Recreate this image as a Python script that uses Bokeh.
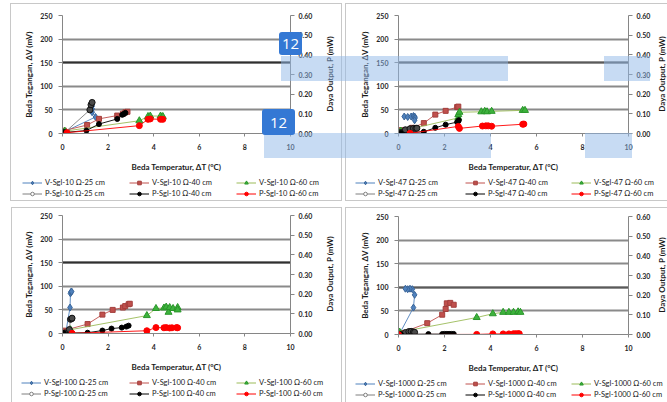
from bokeh.embed import file_html
from bokeh.layouts import column, row
from bokeh.models import (Div, FixedTicker, Grid, Legend, LegendItem, LinearAxis,
                          NumeralTickFormatter, Range1d)
from bokeh.plotting import figure
from bokeh.resources import INLINE

FONT = "Lato"

# ---- measurements: temperature difference (°C), voltage (mV), power (mW) ----
# 10 Ohm load
r10_v25_dt = [0.1, 1.45, 1.3, 1.3, 1.3]
r10_v25_mv = [4, 35, 45, 52, 58]
r10_v40_dt = [0.06, 1.08, 1.6, 2.4, 2.65, 2.76, 2.85]
r10_v40_mv = [6, 18, 31, 38, 42, 45, 46]
r10_v60_dt = [0.1, 3.37, 3.75, 3.85, 4.3, 4.4]
r10_v60_mv = [5, 27, 36, 37, 37, 36]
r10_p25_dt = [0.1, 1.2, 1.25, 1.3]
r10_p25_mw = [0.005, 0.12, 0.146, 0.158]
r10_p40_dt = [0.06, 1.05, 1.6, 2.4, 2.62, 2.7, 2.76]
r10_p40_mw = [0.005, 0.015, 0.048, 0.074, 0.095, 0.1, 0.105]
r10_p60_dt = [0.2, 3.37, 3.75, 3.85, 4.3, 4.4]
r10_p60_mw = [0.004, 0.04, 0.072, 0.074, 0.072, 0.072]

# 47 Ohm load
r47_v25_dt = [0.25, 0.4, 0.55, 0.65, 0.7, 0.72, 0.7]
r47_v25_mv = [36, 35, 36, 37, 36, 33, 28]
r47_v40_dt = [0.1, 0.6, 1.1, 1.6, 2.05, 2.55, 2.6]
r47_v40_mv = [7, 12, 22, 40, 48, 56, 57]
r47_v60_dt = [0.1, 2.6, 2.6, 2.65, 3.6, 3.75, 3.85, 4.05, 5.4, 5.5]
r47_v60_mv = [5, 33, 40, 45, 46, 47, 46, 47, 49, 49]
r47_p25_dt = [0.1, 0.3, 0.5, 0.65, 0.75, 0.8]
r47_p25_mw = [0.005, 0.019, 0.024, 0.026, 0.026, 0.027]
r47_p40_dt = [0.1, 1.1, 1.6, 2.05, 2.55, 2.6, 2.62]
r47_p40_mw = [0.002, 0.009, 0.029, 0.045, 0.058, 0.063, 0.068]
r47_p60_dt = [0.5, 2.6, 2.65, 3.65, 3.8, 3.9, 4.05, 5.4, 5.45]
r47_p60_mw = [0.001, 0.036, 0.026, 0.038, 0.039, 0.039, 0.037, 0.047, 0.048]

# 100 Ohm load
r100_v25_dt = [0.15, 0.33, 0.35, 0.37, 0.4]
r100_v25_mv = [4, 55, 85, 88, 89]
r100_v40_dt = [0.05, 1.1, 1.75, 2.2, 2.65, 2.75, 2.9, 2.95]
r100_v40_mv = [6, 20, 40, 50, 55, 58, 62, 63]
r100_v60_dt = [0.35, 3.7, 4.1, 4.45, 4.55, 4.65, 4.7, 4.85, 5.05, 5.05]
r100_v60_mv = [8, 38, 53, 54, 56, 45, 55, 53, 55, 50]
r100_p25_dt = [0.1, 0.3, 0.35, 0.4, 0.42]
r100_p25_mw = [0.003, 0.02, 0.072, 0.075, 0.078]
r100_p40_dt = [0.05, 1.1, 1.75, 2.15, 2.6, 2.8, 2.9]
r100_p40_mw = [0.002, 0.004, 0.015, 0.025, 0.03, 0.035, 0.04]
r100_p60_dt = [0.42, 3.7, 4.1, 4.45, 4.55, 4.7, 4.8, 5.0, 5.05]
r100_p60_mw = [0.001, 0.014, 0.03, 0.029, 0.03, 0.028, 0.029, 0.03, 0.029]

# 1000 Ohm load
r1000_v25_dt = [0.05, 0.65, 0.7, 0.6, 0.5, 0.4, 0.3]
r1000_v25_mv = [2, 57, 84, 96, 97, 96, 97]
r1000_v40_dt = [0.1, 1.25, 1.9, 2.05, 2.1, 2.25, 2.4]
r1000_v40_mv = [3, 24, 42, 54, 66, 67, 63]
r1000_v60_dt = [0.05, 3.4, 4.1, 4.55, 4.8, 5.0, 5.2, 5.3]
r1000_v60_mv = [5, 36, 44, 47, 47, 47, 48, 47]
r1000_p25_dt = [0.05, 0.3, 0.45, 0.55, 0.65, 0.7]
r1000_p25_mw = [0.001, 0.01, 0.015, 0.016, 0.013, 0.011]
r1000_p40_dt = [0.1, 1.3, 1.9, 2.0, 2.1, 2.2, 2.3, 2.4]
r1000_p40_mw = [0.001, 0.002, 0.002, 0.003, 0.003, 0.003, 0.003, 0.003]
r1000_p60_dt = [0.0, 3.4, 4.1, 4.55, 4.8, 5.0, 5.1, 5.2, 5.25]
r1000_p60_mw = [0.0, 0.0005, 0.003, 0.003, 0.003, 0.004, 0.004, 0.004, 0.004]

T_TICKS = [0, 2, 4, 6, 8, 10]
V_TICKS = [0, 50, 100, 150, 200, 250]
P_TICKS = [0.0, 0.1, 0.2, 0.3, 0.4, 0.5, 0.6]

X_TITLE = "Beda Temperatur, \u0394T (\u00b0C)"
Y_TITLE = "Beda Tegangan, \u0394V (mV)"
P_TITLE = "Daya Output, P (mW)"

# series key -> (legend prefix, length, axis, line colour, marker, fill, edge, size)
STYLE = {
    "v25": ("V", "25", "v", "#4F81BD", "diamond", "#4F81BD", "#3A6599", 7),
    "v40": ("V", "40", "v", "#C0504D", "square", "#C0504D", "#A33F3C", 5),
    "v60": ("V", "60", "v", "#9BBB59", "triangle", "#3DB23D", "#2A962A", 7),
    "p25": ("P", "25", "p", "#7F7F7F", "circle", "#4A4A4A", "#111111", 6),
    "p40": ("P", "40", "p", "#000000", "circle", "#000000", "#000000", 5),
    "p60": ("P", "60", "p", "#FF0000", "circle", "#FF0000", "#FF0000", 6),
}
LEGEND_COLUMNS = [("v25", "p25"), ("v40", "p40"), ("v60", "p60")]

PANELS = [
    ("10", {"v25": (r10_v25_dt, r10_v25_mv), "v40": (r10_v40_dt, r10_v40_mv),
            "v60": (r10_v60_dt, r10_v60_mv), "p25": (r10_p25_dt, r10_p25_mw),
            "p40": (r10_p40_dt, r10_p40_mw), "p60": (r10_p60_dt, r10_p60_mw)}),
    ("47", {"v25": (r47_v25_dt, r47_v25_mv), "v40": (r47_v40_dt, r47_v40_mv),
            "v60": (r47_v60_dt, r47_v60_mv), "p25": (r47_p25_dt, r47_p25_mw),
            "p40": (r47_p40_dt, r47_p40_mw), "p60": (r47_p60_dt, r47_p60_mw)}),
    ("100", {"v25": (r100_v25_dt, r100_v25_mv), "v40": (r100_v40_dt, r100_v40_mv),
             "v60": (r100_v60_dt, r100_v60_mv), "p25": (r100_p25_dt, r100_p25_mw),
             "p40": (r100_p40_dt, r100_p40_mw), "p60": (r100_p60_dt, r100_p60_mw)}),
    ("1000", {"v25": (r1000_v25_dt, r1000_v25_mv), "v40": (r1000_v40_dt, r1000_v40_mv),
              "v60": (r1000_v60_dt, r1000_v60_mv), "p25": (r1000_p25_dt, r1000_p25_mw),
              "p40": (r1000_p40_dt, r1000_p40_mw), "p60": (r1000_p60_dt, r1000_p60_mw)}),
]

# chart canvas (w x h), plot frame, legend strip height, legend column starts,
# and one darker gridline per chart
GEOM = [
    dict(w=343, h=178, fx=62, fy=15, fw=228, fh=118, lh=25, lx=[22, 129, 236],
         dark=(150, "#303030")),
    dict(w=324, h=178, fx=55, fy=15, fw=230, fh=118, lh=25, lx=[12, 122, 228],
         dark=(150, "#5a5a5a")),
    dict(w=343, h=175, fx=62, fy=12, fw=228, fh=118, lh=24, lx=[21, 129, 236],
         dark=(150, "#303030")),
    dict(w=324, h=176, fx=55, fy=13, fw=230, fh=118, lh=23, lx=[12, 122, 228],
         dark=(100, "#5a5a5a")),
]

# page-level decorations (left, right, top, bottom in page pixels)
PANEL_BORDERS = [(10, 342, 3, 201), (345, 700, 3, 201),
                 (11, 342, 207, 420), (345, 700, 207, 420)]
HIGHLIGHTS = [(281, 508, 56, 81), (604, 650, 56, 81),
              (264, 491, 133, 158), (585, 632, 133, 158)]
BADGES = [((279, 302, 32, 55), "12"), ((262, 295, 109, 135), "12")]
# centre points of the secondary-axis titles (page pixels)
P_TITLE_CENTRES = [(330, 74), (662, 74), (330, 274), (662, 275)]


def style_axis(ax, ticks, title):
    ax.ticker = FixedTicker(ticks=ticks)
    ax.axis_label = title
    ax.axis_label_text_font = FONT
    ax.axis_label_text_font_style = "bold"
    ax.axis_label_text_font_size = "8px"
    ax.axis_label_text_color = "#1a1a1a"
    ax.major_label_text_font = FONT
    ax.major_label_text_font_style = "bold"
    ax.major_label_text_font_size = "7px"
    ax.major_label_text_color = "#262626"
    ax.axis_line_color = "#868686"
    ax.major_tick_line_color = "#868686"
    ax.major_tick_in = 0
    ax.major_tick_out = 4
    ax.minor_tick_line_color = None


def build_chart(data, g):
    w, h = g["w"], g["h"]
    p = figure(width=w, height=h, output_backend="svg", toolbar_location=None,
               x_range=Range1d(0, 10), y_range=Range1d(0, 250),
               min_border_left=g["fx"], min_border_top=g["fy"],
               min_border_right=w - g["fx"] - g["fw"],
               min_border_bottom=h - g["fy"] - g["fh"])
    p.extra_y_ranges = {"power": Range1d(0, 0.6)}
    p.outline_line_color = None
    p.background_fill_color = "white"
    p.border_fill_color = "white"

    p.xgrid.visible = False
    p.ygrid.ticker = FixedTicker(ticks=V_TICKS)
    p.ygrid.grid_line_color = "#8a8a8a"
    p.ygrid.grid_line_width = 2
    level, colour = g["dark"]
    p.add_layout(Grid(dimension=1, ticker=FixedTicker(ticks=[level]),
                      grid_line_color=colour, grid_line_width=2))

    xa = p.xaxis[0]
    style_axis(xa, T_TICKS, X_TITLE)
    xa.major_tick_out = 3
    xa.major_label_standoff = 7
    xa.axis_label_standoff = 9

    ya = p.yaxis[0]
    style_axis(ya, V_TICKS, Y_TITLE)
    ya.major_label_standoff = 6
    ya.axis_label_standoff = 3

    # secondary axis for power; its title is set in the page overlay (rotated upwards)
    ra = LinearAxis(y_range_name="power")
    style_axis(ra, P_TICKS, None)
    ra.formatter = NumeralTickFormatter(format="0.00")
    ra.major_label_standoff = 4
    p.add_layout(ra, "right")

    for key, (prefix, length, axis, lc, marker, fill, edge, size) in STYLE.items():
        xs, ys = data[key]
        extra = {"y_range_name": "power"} if axis == "p" else {}
        p.line(xs, ys, line_color=lc, line_width=1, line_alpha=0.9, **extra)
        p.scatter(xs, ys, marker=marker, size=size, fill_color=fill,
                  line_color=edge, line_width=1, **extra)
    return p


def legend_cell(ohm, data, keys, width, inset, height):
    # one legend column; the series sit outside the visible range, only the key shows
    lf = figure(width=width, height=height, output_backend="svg", toolbar_location=None,
                x_range=Range1d(-2, -1), y_range=Range1d(-2, -1),
                x_axis_location=None, y_axis_location=None,
                min_border_left=inset, min_border_right=0,
                min_border_top=0, min_border_bottom=0)
    lf.grid.visible = False
    lf.outline_line_color = None
    lf.background_fill_color = "white"
    lf.border_fill_color = "white"
    items = []
    for key in keys:
        prefix, length, axis, lc, marker, fill, edge, size = STYLE[key]
        xs, ys = data[key]
        ln = lf.line(xs, ys, line_color=lc, line_width=1)
        sc = lf.scatter(xs, ys, marker=marker, size=min(size, 6),
                        fill_color="white" if key == "p25" else fill,
                        line_color=lc if key == "p25" else edge, line_width=1)
        label = f"{prefix}-Sgl-{ohm} \u03a9-{length} cm"
        items.append(LegendItem(label=label, renderers=[ln, sc]))
    lf.add_layout(Legend(items=items, location="top_left", orientation="vertical",
                         glyph_width=20, glyph_height=9, label_height=9,
                         label_standoff=3, spacing=2, padding=0, margin=0,
                         background_fill_alpha=0, border_line_color=None,
                         label_text_font=FONT, label_text_font_size="7.5px",
                         label_text_color="#1a1a1a"))
    return lf


def build_legend(ohm, data, g):
    c1, c2, c3 = g["lx"]
    return row(legend_cell(ohm, data, LEGEND_COLUMNS[0], c2, c1, g["lh"]),
               legend_cell(ohm, data, LEGEND_COLUMNS[1], c3 - c2, 0, g["lh"]),
               legend_cell(ohm, data, LEGEND_COLUMNS[2], g["w"] - c3, 0, g["lh"]))


def box(l, r, t, b, style):
    return (f'<div style="position:absolute;left:{l}px;top:{t}px;'
            f'width:{r - l}px;height:{b - t}px;{style}"></div>')


def overlay_html():
    parts = []
    for (l, r, t, b) in PANEL_BORDERS:
        parts.append(box(l, r, t, b, "border:1.5px solid #c8c8c8;box-sizing:border-box;"))
    for (cx, cy) in P_TITLE_CENTRES:
        parts.append(
            f'<div style="position:absolute;left:{cx}px;top:{cy}px;white-space:nowrap;'
            f'transform:translate(-50%,-50%) rotate(-90deg);font-family:{FONT};'
            f'font-weight:bold;font-size:8px;line-height:10px;color:#1a1a1a;">'
            f'{P_TITLE}</div>')
    for (l, r, t, b) in HIGHLIGHTS:
        parts.append(box(l, r, t, b, "background:rgba(143,184,232,0.5);"))
    for (l, r, t, b), txt in BADGES:
        parts.append(
            f'<div style="position:absolute;left:{l}px;top:{t}px;width:{r - l}px;'
            f'height:{b - t}px;background:#3478d4;border-radius:3px;color:white;'
            f'font-family:\'Open Sans\';font-size:15px;line-height:{b - t}px;'
            f'text-align:center;">{txt}</div>')
    return ('<div style="position:absolute;left:0px;top:0px;width:667px;height:402px;'
            'overflow:hidden;">' + "".join(parts) + "</div>")


panels = []
for (ohm, data), g in zip(PANELS, GEOM):
    panels.append(column(build_chart(data, g), build_legend(ohm, data, g)))

decor = Div(text=overlay_html(), width=667, height=402, margin=0,
            styles={"position": "absolute", "left": "0px", "top": "0px",
                    "pointer-events": "none", "z-index": "10"})

layout = column(row(panels[0], panels[1]), row(panels[2], panels[3]), decor)

with open("out.html", "w") as fh:
    fh.write(file_html(layout, INLINE))
